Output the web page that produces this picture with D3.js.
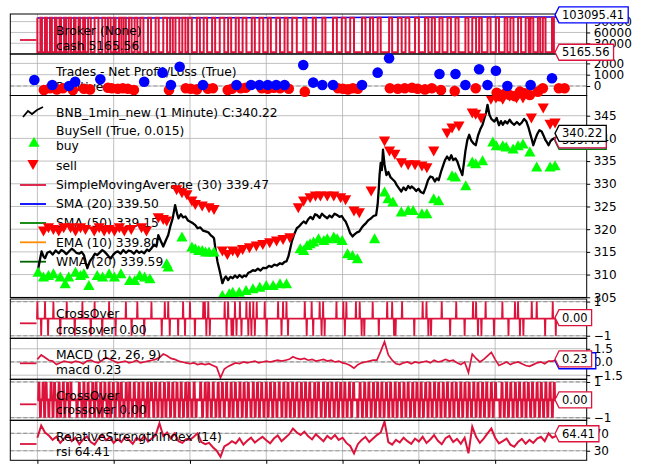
<!DOCTYPE html>
<meta charset="utf-8">
<style>
body { margin: 0; background: #fff; }
text { font-family: "DejaVu Sans", sans-serif; }
</style>
<body>
<svg id="chart" width="649" height="475"></svg>
<script src="https://d3js.org/d3.v7.min.js"></script>
<script>
// ---- data (x in bars) ----
var lastBar = 1360;
var xTickBars = [0, 200, 400, 600, 800, 1000, 1200];

// broker
var valueBars = [0, 250, 500, 700, 920, 1100, 1250, 1372];
var valueVals = [100000, 100250, 100400, 100600, 102300, 102700, 103000, 103095.41];
var cashHigh = 100600, cashLow = 5165.56, cashEnd = 1372;
var cashSwitch = [0,8, 12,20, 25,33, 38,46, 50,58, 62,70, 75,82, 88,96, 100,108, 112,120, 125,133, 140,150,
  160,170, 178,185, 192,200, 205,214, 220,226, 232,240, 247,255, 262,270, 278,290, 298,310, 318,330, 340,348,
  355,362, 372,380, 388,395, 405,418, 426,436, 445,458, 466,478, 490,500, 508,520, 528,538, 548,562, 570,582,
  592,604, 612,626, 636,648, 656,668, 680,697, 705,722, 730,747, 755,775, 785,798, 808,820, 830,851, 860,872,
  880,892, 900,922, 930,945, 955,965, 975,990, 1000,1016, 1025,1034, 1042,1054, 1062,1075, 1084,1096, 1104,1122,
  1130,1140, 1150,1158, 1165,1180, 1188,1202, 1210,1225, 1232,1240, 1248,1260, 1268,1280, 1288,1293, 1300,1312,
  1318,1325, 1332,1349, 1354];

// trades
var posBars = [-8,39,83,99,165,280,328,350,373,434,522,560,582,604,626,648,697,723,747,775,851,892,922,1054,1096,1122,1158,1180,1202,1232,1293,1349];
var posVals = [531,90,0,380,590,380,1180,90,1710,90,90,90,90,90,90,90,1860,300,90,90,90,1180,2450,1060,1060,90,1480,90,1350,0,90,680];
var negBars = [17,33,51,67,93,122,138,185,195,211,224,237,253,345,389,402,418,447,460,499,510,533,546,588,604,620,636,659,701,788,801,814,827,840,924,945,963,982,997,1016,1034,1058,1094,1149,1204,1212,1225,1238,1252,1265,1278,1291,1312,1325,1367,1382];
var negVals = [-350,-200,-300,-200,-350,-250,-300,-150,-200,-250,-200,-250,-350,-350,-200,-250,-300,-250,-200,-350,-250,-200,-150,-200,-250,-150,-200,-250,-500,-200,-250,-300,-200,-250,-200,-250,-200,-150,-250,-300,-200,-350,-450,-200,-600,-900,-700,-800,-900,-500,-650,-800,-500,-200,-200,-200];

// price
var closeBars = [0,6,11,16,20,26,33,40,48,56,63,69,76,84,90,95,102,110,116,122,127,131,138,145,151,157,164,170,175,182,188,193,199,205,211,218,225,232,239,246,253,260,267,273,280,287,293,299,306,312,317,323,330,336,343,349,355,361,366,370,376,382,388,395,402,408,414,420,427,434,441,448,455,460,463,467,472,478,485,490,494,500,506,512,518,524,530,537,542,547,553,559,565,571,578,585,592,600,607,614,621,628,636,642,648,653,658,663,667,672,676,680,686,692,698,704,710,716,722,728,733,740,746,752,760,766,772,779,786,792,798,803,808,814,820,826,832,838,844,850,856,862,868,875,881,888,892,895,897,900,903,906,910,915,920,926,931,937,942,948,954,960,966,972,977,981,987,993,999,1005,1012,1018,1024,1030,1036,1042,1047,1052,1058,1064,1069,1074,1080,1085,1090,1096,1101,1106,1110,1114,1118,1122,1127,1132,1137,1143,1149,1155,1161,1167,1172,1176,1180,1185,1190,1198,1204,1210,1215,1220,1226,1232,1238,1244,1250,1257,1264,1270,1276,1282,1287,1292,1296,1300,1305,1310,1316,1322,1327,1332,1336,1340,1345,1350,1360];
var closeVals = [310.3,313.0,315.1,314.0,313.6,314.8,315.1,314.4,315.3,314.7,315.4,315.1,314.5,315.2,315.7,315.4,314.8,314.6,315.0,314.3,312.6,311.4,313.0,313.8,314.6,314.3,314.9,315.4,315.1,314.5,313.9,313.6,314.4,314.9,315.1,314.6,315.4,314.8,315.3,315.1,314.6,315.3,314.8,315.1,314.7,315.5,315.2,315.8,316.6,316.2,318.7,317.5,316.2,317.4,318.7,320.8,322.5,325.3,323.5,322.4,323.3,322.6,322.8,321.9,321.6,321.3,320.9,320.2,320.4,319.7,319.5,319.3,318.6,318.3,318.0,315.5,312.9,310.8,308.1,309.1,309.6,308.8,309.5,309.2,309.8,309.3,309.9,309.4,309.8,309.6,310.4,310.6,311.0,310.8,311.3,310.9,311.5,311.4,311.9,311.7,312.2,312.0,312.5,312.3,312.8,312.9,314.0,315.8,317.3,318.6,319.4,320.2,320.6,321.2,321.7,321.3,322.2,322.7,322.2,323.3,323.1,322.5,323.4,322.9,322.4,323.0,322.6,323.4,323.1,322.7,322.9,322.2,321.7,320.5,319.1,318.4,318.9,319.3,319.5,320.3,320.9,321.4,322.0,322.4,322.9,323.1,325.5,329.0,331.9,334.6,333.0,337.5,334.2,331.9,332.6,331.4,331.0,330.5,329.7,329.0,328.3,329.2,328.6,329.5,329.0,329.4,329.0,328.4,328.9,328.2,327.9,329.2,330.8,331.6,331.4,330.5,331.2,330.8,332.6,334.1,335.3,336.0,335.3,336.3,335.2,335.6,334.9,333.6,332.8,331.9,334.5,337.2,339.6,340.8,339.6,338.9,338.5,340.6,342.0,343.0,344.5,345.6,347.4,345.2,344.3,343.7,344.5,342.9,343.8,343.0,343.8,343.3,344.1,343.4,343.0,343.6,343.0,343.5,344.3,343.7,342.5,341.0,339.8,338.5,339.8,340.9,341.8,341.5,340.6,339.6,339.1,338.5,339.4,339.8,340.22];

var buyBars = [2,16,29,42,60,73,82,100,113,122,135,157,171,188,202,219,242,255,268,281,295,339,343,379,405,414,423,432,441,450,463,485,503,512,529,547,565,583,600,618,636,653,689,698,707,715,724,737,751,760,777,786,799,813,826,839,884,910,919,932,954,972,985,1008,1021,1039,1052,1087,1096,1123,1140,1149,1167,1194,1203,1220,1229,1247,1260,1273,1291,1309,1344,1357];
var buyVals = [310.6,309.6,309.9,310.3,309.6,308.1,309.6,310.6,309.9,310.3,307.7,309.9,309.6,310.3,309.6,310.3,308.8,308.8,309.9,309.6,309.2,312.5,311.8,318.4,316.2,315.8,315.4,315.4,315.1,315.1,315.1,305.5,305.9,306.2,306.2,306.6,307.0,307.3,307.7,307.7,308.1,308.1,315.8,315.4,316.5,316.9,317.3,318.0,317.6,318.0,318.4,318.0,317.6,314.7,314.3,313.6,318.0,328.3,326.8,326.1,323.9,324.2,324.2,323.5,323.5,326.8,326.4,331.9,331.6,329.7,334.9,334.5,335.2,339.3,338.5,338.5,338.2,337.8,338.5,338.9,337.1,333.8,333.8,334.1];
var sellBars = [16,29,42,56,69,87,100,113,126,149,162,175,188,202,215,228,246,273,286,317,330,339,365,379,392,405,414,432,450,463,485,498,512,525,538,556,574,591,609,627,644,662,684,698,715,729,742,760,777,795,808,830,844,875,910,923,937,954,972,990,1008,1021,1039,1074,1087,1105,1140,1149,1163,1189,1202,1220,1238,1256,1273,1295,1326,1344,1357];
var sellVals = [319.5,320.2,319.8,319.5,320.2,320.2,319.5,320.2,319.8,319.5,320.2,319.5,319.8,319.5,320.2,319.5,319.8,320.2,319.5,322.4,322.0,321.7,328.6,327.9,327.5,326.1,325.3,325.0,324.6,324.2,315.1,314.3,315.1,314.7,315.4,315.8,316.2,316.5,316.9,317.3,317.6,318.0,324.6,326.1,326.8,327.2,327.2,327.2,327.2,326.8,326.4,323.9,323.5,328.3,339.3,337.1,336.4,334.5,334.1,334.1,333.8,333.4,337.1,341.1,342.2,342.6,345.5,345.2,344.4,348.5,348.8,348.5,349.2,348.8,348.8,344.4,346.6,343.0,343.3];
var maLabels = ["SimpleMovingAverage (30) 339.47", "SMA (20) 339.50", "SMA (50) 339.15", "EMA (10) 339.80", "WMA (20) 339.59"];
var maLast = [339.47, 339.50, 339.15, 339.80, 339.59];
var maColors = ["crimson", "#0000ff", "#008000", "#ff8c00", "#006400"];

// crossover 1
var cross1Up = [0,20,42,77,118,150,188,232,262,299,334,343,382,400,435,439,448,491,500,518,531,548,557,566,575,596,631,644,653,701,719,740,749,784,802,810,835,845,879,917,930,956,1010,1020,1060,1098,1142,1150,1175,1219,1252,1260,1296,1309,1351];
var cross1Down = [10,28,60,98,140,170,205,247,280,326,347,369,387,413,443,452,496,509,513,522,535,553,561,570,601,640,657,706,723,745,753,806,850,857,895,935,939,988,1025,1032,1082,1120,1155,1164,1197,1235,1265,1274,1331,1359];

// macd, rsi sampled every 10 bars (last sample at bar 1360)
var oscStep = 10;
var macdVals = [0.3,0.8,0.5,0.2,0.1,-0.3,-0.1,0.1,0.0,-0.1,
  0.1,0.0,-0.2,0.1,0.2,0.0,-0.1,0.2,0.5,0.3,
  0.1,-0.1,0.0,0.1,-0.1,0.0,0.2,-0.1,0.0,0.1,
  0.2,0.3,0.5,0.9,0.7,0.4,0.3,0.1,0.0,-0.1,
  -0.2,-0.1,-0.3,-0.2,-0.3,-0.2,-0.4,-0.6,-1.8,-0.8,
  -0.5,-0.3,-0.1,-0.2,0.0,-0.1,0.0,0.1,-0.1,0.0,
  0.1,0.0,0.1,0.2,0.1,0.2,0.3,0.6,0.4,0.3,
  0.4,0.2,0.3,0.1,0.2,0.3,0.1,0.2,0.0,0.1,
  -0.1,-0.2,-0.4,-0.7,-0.3,-0.1,0.0,0.1,0.2,0.2,
  1.2,2.3,0.8,0.2,-0.2,-0.3,-0.1,0.0,-0.2,0.0,
  -0.1,0.0,0.1,-0.1,0.2,0.0,0.1,0.3,0.1,0.2,
  -0.1,-0.3,0.0,-1.2,0.9,0.4,0.0,0.3,0.7,1.1,
  0.3,-0.4,-0.2,0.0,-0.3,-0.1,0.0,-0.2,-0.4,-0.5,
  -0.3,-0.1,0.0,-0.2,0.1,0.1,0.23];
var signalLast = -0.2;
var rsiVals = [60,88,72,65,55,62,48,58,66,52,
  60,45,56,63,50,44,58,67,54,61,
  48,57,50,62,55,46,60,53,64,51,
  58,66,93,64,72,58,70,52,48,57,
  55,62,70,50,45,48,38,30,16,40,
  45,52,47,58,44,53,60,49,56,62,
  54,47,58,65,52,60,68,81,72,66,
  74,63,56,68,60,52,64,57,66,55,
  60,48,41,24,45,55,62,50,58,66,
  72,97,50,44,55,49,60,52,46,58,
  51,62,48,56,66,53,45,59,64,50,
  57,46,60,24,85,62,48,58,70,81,
  60,47,52,58,44,39,50,57,46,55,
  48,58,62,52,70,60,64.41];

// crossover 2 (alternating up / down)
var cross2Bars = [4,8,15,19,23,30,36,41,45,52,57,61,68,72,79,84,88,104,110,117,122,126,133,138,145,150,154,161,166,170,177,183,188,192,199,204,211,216,220,227,233,238,242,249,254,261,266,270,277,283,289,292,299,305,310,316,321,327,333,337,344,349,355,360,366,372,377,383,389,394,398,405,411,416,428,433,440,445,449,456,461,468,474,478,485,490,496,503,508,513,519,525,531,537,542,548,553,560,566,571,577,582,588,594,600,605,611,617,622,628,634,641,646,652,657,663,669,674,680,686,692,697,703,709,714,720,727,731,737,744,750,755,761,766,772,778,784,789,795,801,806,812,818,824,829,840,846,852,858,863,869,875,881,886,892,898,903,909,915,921,926,932,938,943,949,955,961,966,972,978,984,989,995,1001,1006,1012,1018,1024,1029,1035,1041,1047,1052,1058,1064,1069,1075,1081,1087,1092,1098,1104,1110,1115,1121,1127,1132,1138,1144,1150,1155,1161,1167,1172,1178,1184,1190,1195,1201,1213,1218,1224,1230,1235,1241,1247,1253,1258,1264,1270,1276,1281,1287,1293,1298,1304,1310,1316,1321,1327,1333,1338,1344,1350,1355];

// ---- layout ----
var svg = d3.select("#chart");
var left = 10.3, right = 586.7;
var x = d3.scaleLinear().domain([-71, 1440]).range([left, right]);
var grid = "#b0b0b0";

var P = {
  broker: { top: 14, bottom: 54, y: d3.scaleLinear().domain([0, 111100]).range([54.1, 14]), ticks: [0, 30000, 60000, 90000], fmt: d3.format("d") },
  trades: { top: 54, bottom: 95.5, y: d3.scaleLinear().domain([-841, 2832]).range([95.5, 54]), ticks: [0, 1000, 2000], fmt: d3.format("d") },
  main:   { top: 95.5, bottom: 297.5, y: d3.scaleLinear().domain([304.95, 349.45]).range([297.5, 95.5]), ticks: [305,310,315,320,325,330,335,340,345], fmt: d3.format("d") },
  cross1: { top: 299, bottom: 338.3, y: d3.scaleLinear().domain([-1.15, 1.15]).range([338.3, 299]), ticks: [-1, 1], fmt: d3.format("d"), dashed: [-1, 1] },
  macd:   { top: 338.3, bottom: 379.3, y: d3.scaleLinear().domain([-1.97, 2.69]).range([379.3, 338.3]), ticks: [-1.5, 0, 1.5], fmt: d3.format(".1f"), dashed: [0] },
  cross2: { top: 379.3, bottom: 420.3, y: d3.scaleLinear().domain([-1.15, 1.15]).range([420.3, 379.3]), ticks: [-1, 1], fmt: d3.format("d"), dashed: [-1, 1] },
  rsi:    { top: 420.3, bottom: 460.3, y: d3.scaleLinear().domain([8, 100]).range([460.3, 420.3]), ticks: [30, 70], fmt: d3.format("d"), dashed: [30, 70] }
};
P.trades.dashed = [0];
var order = ["broker", "trades", "main", "cross1", "macd", "cross2", "rsi"];

var defs = svg.append("defs");
var layerBg = svg.append("g");
var layerLegend = svg.append("g");
var layerData = svg.append("g");
var layerFrame = svg.append("g");
var layerLegendTop = svg.append("g");
var layerTrades = svg.append("g");
var layerLabels = svg.append("g");

order.forEach(function(k) {
  var p = P[k];
  defs.append("clipPath").attr("id", "clip-" + k).append("rect")
    .attr("x", left).attr("y", p.top).attr("width", right - left).attr("height", p.bottom - p.top);
  p.g = layerData.append("g").attr("clip-path", "url(#clip-" + k + ")");
  layerBg.append("rect").attr("x", left).attr("y", p.top).attr("width", right - left)
    .attr("height", p.bottom - p.top).attr("fill", "#fff");
  layerBg.append("g").selectAll("line").data(xTickBars).enter().append("line")
    .attr("x1", d => x(d)).attr("x2", d => x(d)).attr("y1", p.top).attr("y2", p.bottom)
    .attr("stroke", grid).attr("stroke-width", 0.8);
  layerBg.append("g").selectAll("line").data(p.ticks).enter().append("line")
    .attr("x1", left).attr("x2", right).attr("y1", d => p.y(d)).attr("y2", d => p.y(d))
    .attr("stroke", grid).attr("stroke-width", 0.8);
  if (p.dashed) {
    layerBg.append("g").selectAll("line").data(p.dashed).enter().append("line")
      .attr("x1", left).attr("x2", right).attr("y1", d => p.y(d)).attr("y2", d => p.y(d))
      .attr("stroke", "#999").attr("stroke-width", 1.2).attr("stroke-dasharray", "4,2.5");
  }
  // frame and right axis
  layerFrame.append("rect").attr("x", left).attr("y", p.top).attr("width", right - left)
    .attr("height", p.bottom - p.top).attr("fill", "none").attr("stroke", "#000").attr("stroke-width", 1);
  var ax = layerFrame.append("g").attr("transform", "translate(" + right + ",0)")
    .call(d3.axisRight(p.y).tickValues(p.ticks).tickFormat(p.fmt).tickSize(3.5).tickPadding(3.5));
  ax.select(".domain").remove();
  ax.selectAll("text").attr("font-size", 12).attr("font-family", "DejaVu Sans").attr("fill", "#000");
  ax.selectAll("line").attr("stroke", "#000");
});

// bottom x ticks (no labels)
var xa = layerFrame.append("g").attr("transform", "translate(0," + P.rsi.bottom + ")")
  .call(d3.axisBottom(x).tickValues(xTickBars).tickFormat("").tickSize(3.5));
xa.select(".domain").remove();

var line = d3.line().x(d => x(d[0]));

// ---- broker ----
var yb = P.broker.y;
var cashPts = [[0, cashHigh]];
cashSwitch.forEach(function(b, i) {
  if (i % 2 == 0) cashPts.push([b, cashHigh], [b, cashLow]);
  else cashPts.push([b, cashLow], [b, cashHigh]);
});
cashPts.push([cashEnd, cashLow]);
P.broker.g.append("path").attr("d", line.y(d => yb(d[1]))(valueBars.map((b, i) => [b, valueVals[i]])))
  .attr("fill", "none").attr("stroke", "#0000ff").attr("stroke-width", 1.5);
P.broker.g.append("path").attr("d", line.y(d => yb(d[1]))(cashPts))
  .attr("fill", "none").attr("stroke", "crimson").attr("stroke-width", 2);

// ---- main ----
var ym = P.main.y;
P.main.g.append("path").attr("d", line.y(d => ym(d[1]))(closeBars.map((b, i) => [b, closeVals[i]])))
  .attr("fill", "none").attr("stroke", "#000").attr("stroke-width", 2.3).attr("stroke-linejoin", "round");
var triUp = "M0,-5L5.6,5L-5.6,5Z", triDown = "M0,5L5.6,-5L-5.6,-5Z";
P.main.g.append("g").selectAll("path").data(buyBars).enter().append("path")
  .attr("d", triUp).attr("transform", (d, i) => "translate(" + x(d) + "," + ym(buyVals[i]) + ")")
  .attr("fill", "#00ff00");
P.main.g.append("g").selectAll("path").data(sellBars).enter().append("path")
  .attr("d", triDown).attr("transform", (d, i) => "translate(" + x(d) + "," + ym(sellVals[i]) + ")")
  .attr("fill", "#ff0000");

// ---- crossovers ----
function crossPts(events, end) {
  events.sort((a, b) => a[0] - b[0]);
  var pts = [[0, 0]];
  events.forEach(function(e) { pts.push([e[0] - 1, 0], [e[0], e[1]], [e[0] + 1, 0]); });
  pts.push([end, 0]);
  return pts;
}
var ev1 = cross1Up.map(b => [b, 1]).concat(cross1Down.map(b => [b, -1]));
P.cross1.g.append("path").attr("d", line.y(d => P.cross1.y(d[1]))(crossPts(ev1, lastBar)))
  .attr("fill", "none").attr("stroke", "crimson").attr("stroke-width", 1.8);
var ev2 = cross2Bars.map((b, i) => [b, i % 2 == 0 ? 1 : -1]);
P.cross2.g.append("path").attr("d", line.y(d => P.cross2.y(d[1]))(crossPts(ev2, lastBar)))
  .attr("fill", "none").attr("stroke", "crimson").attr("stroke-width", 2.8);

// ---- macd, rsi ----
function oscBar(i, n) { return i == n - 1 ? lastBar : i * oscStep; }
P.macd.g.append("path").attr("d", line.y(d => P.macd.y(d[1]))(macdVals.map((v, i) => [oscBar(i, macdVals.length), v])))
  .attr("fill", "none").attr("stroke", "crimson").attr("stroke-width", 1.7);
P.rsi.g.append("path").attr("d", line.y(d => P.rsi.y(d[1]))(rsiVals.map((v, i) => [oscBar(i, rsiVals.length), v])))
  .attr("fill", "none").attr("stroke", "crimson").attr("stroke-width", 2);

// ---- trades (not clipped) ----
var yt = P.trades.y;
layerTrades.selectAll(".neg").data(negBars).enter().append("circle")
  .attr("cx", d => x(d)).attr("cy", (d, i) => yt(negVals[i])).attr("r", 5.3).attr("fill", "#ff0000");
layerTrades.selectAll(".pos").data(posBars).enter().append("circle")
  .attr("cx", d => x(d)).attr("cy", (d, i) => yt(posVals[i])).attr("r", 5.3).attr("fill", "#0000ff");

// ---- legends ----
function legText(layer, y, s) {
  layer.append("text").attr("x", 56).attr("y", y).attr("dy", "0.35em").attr("font-size", 12.3).text(s);
}
function legLine(layer, y, color, x1, x2) {
  layer.append("line").attr("x1", x1 || 20).attr("x2", x2 || 36.5).attr("y1", y).attr("y2", y)
    .attr("stroke", color).attr("stroke-width", 1.8);
}
var T = layerLegendTop, M = layerLegend;
legLine(T, 40, "crimson"); legText(T, 31, "Broker (None)"); legText(T, 45.5, "cash 5165.56");
legText(T, 71.7, "Trades - Net Profit/Loss (True)"); legText(T, 87, "Positive");
M.append("path").attr("d", "M23,117L28,111L32,114L37,110L43,107").attr("fill", "none")
  .attr("stroke", "#000").attr("stroke-width", 1.8);
legText(M, 112.7, "BNB_1min_new (1 Minute) C:340.22");
legText(M, 130.7, "BuySell (True, 0.015)");
M.append("path").attr("d", triUp).attr("transform", "translate(34,141.7)").attr("fill", "#00ff00");
legText(M, 145.7, "buy");
M.append("path").attr("d", triDown).attr("transform", "translate(33,165)").attr("fill", "#ff0000");
legText(M, 165.7, "sell");
var maY = [185, 204, 223, 242.3, 261.7];
maLabels.forEach(function(s, i) { legLine(M, maY[i], maColors[i], 20, 46); legText(M, maY[i], s); });
legLine(T, 323.3, "crimson"); legText(T, 313.3, "CrossOver"); legText(T, 330, "crossover 0.00");
legLine(T, 363.3, "crimson"); legText(T, 355, "MACD (12, 26, 9)"); legText(T, 370, "macd 0.23");
legLine(T, 404.3, "crimson"); legText(T, 395.7, "CrossOver"); legText(T, 410, "crossover 0.00");
legLine(T, 444, "crimson"); legText(T, 436.7, "RelativeStrengthIndex (14)"); legText(T, 451.7, "rsi 64.41");

// ---- last value labels ----
function valueBox(yc, s, color) {
  var g = layerLabels.append("g");
  var t = g.append("text").attr("x", 562).attr("y", yc).attr("dy", "0.35em").attr("font-size", 11.5).text(s);
  var w = t.node().getComputedTextLength();
  var x0 = 555, x1 = 562 + w + 4, h = 8;
  g.insert("path", "text")
    .attr("d", "M" + x0 + "," + yc + "L" + (x0 + 4) + "," + (yc - h) + "L" + x1 + "," + (yc - h) +
      "L" + x1 + "," + (yc + h) + "L" + (x0 + 4) + "," + (yc + h) + "Z")
    .attr("fill", "#fff").attr("stroke", color).attr("stroke-width", 1.3);
}
valueBox(yb(103095.41) - 2, "103095.41", "#0000ff");
valueBox(yb(cashLow), "5165.56", "crimson");
for (var i = maLast.length - 1; i >= 0; i--) valueBox(ym(maLast[i]) - 1, maLast[i].toFixed(2), maColors[i]);
valueBox(ym(340.22) - 4, "340.22", "#000");
valueBox(P.cross1.y(0) - 1, "0.00", "crimson");
valueBox(P.macd.y(signalLast) - 3, signalLast.toFixed(2), "#0000ff");
valueBox(P.macd.y(0.23) - 1, "0.23", "crimson");
valueBox(P.cross2.y(0), "0.00", "crimson");
valueBox(P.rsi.y(64.41) - 2, "64.41", "crimson");
</script>
</body>
